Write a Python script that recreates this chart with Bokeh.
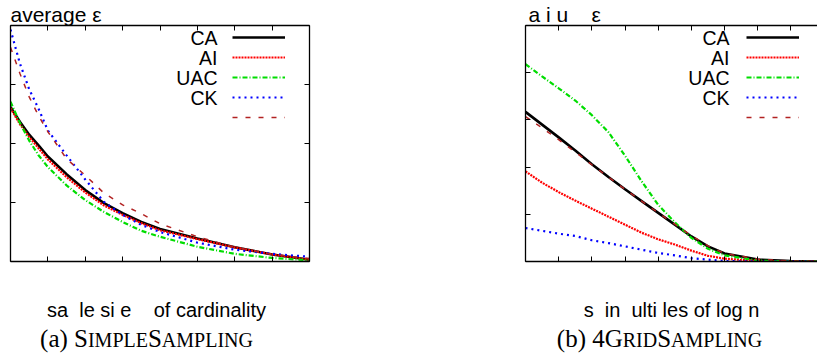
from bokeh.plotting import figure
from bokeh.models import (Range1d, LinearAxis, FixedTicker, CustomJSTickFormatter,
                          Label, Legend, LegendItem)
from bokeh.layouts import row, column
from bokeh.embed import file_html
from bokeh.resources import INLINE

# ---------------- data: (a) SimpleSampling ----------------
xa = [0, 0.25, 0.5, 0.75, 1, 1.5, 2, 2.5, 3, 3.5, 4, 5, 6, 7, 8]
a_ca = [2.62, 2.37, 2.15, 1.97, 1.78, 1.48, 1.21, 0.99, 0.82, 0.67, 0.55, 0.39, 0.24, 0.12, 0.03]
a_ai = [2.60, 2.33, 2.11, 1.92, 1.73, 1.43, 1.17, 0.95, 0.79, 0.65, 0.53, 0.38, 0.24, 0.12, 0.03]
a_uac = [2.71, 2.35, 2.05, 1.80, 1.60, 1.29, 1.04, 0.84, 0.67, 0.52, 0.42, 0.25, 0.13, 0.06, 0.02]
a_ck = [3.93, 3.36, 2.92, 2.59, 2.22, 1.80, 1.39, 1.01, 0.79, 0.62, 0.50, 0.32, 0.20, 0.13, 0.08]
a_x5 = [3.63, 3.19, 2.79, 2.47, 2.20, 1.74, 1.46, 1.16, 0.96, 0.81, 0.64, 0.42, 0.24, 0.12, 0.05]

# ---------------- data: (b) 4GridSampling ----------------
xb = [0, 0.5, 1, 1.5, 2, 2.5, 3, 3.5, 4, 4.5, 5, 5.5, 6, 7, 8, 8.8]
b_ca = [3.17, 2.90, 2.63, 2.35, 2.06, 1.79, 1.53, 1.28, 1.03, 0.78, 0.53, 0.32, 0.17, 0.04, 0.01, 0.0]
b_ai = [1.91, 1.67, 1.47, 1.29, 1.12, 0.95, 0.78, 0.61, 0.47, 0.36, 0.23, 0.12, 0.06, 0.01, 0.0, 0.0]
b_uac = [4.18, 3.92, 3.67, 3.41, 3.10, 2.74, 2.24, 1.70, 1.20, 0.83, 0.50, 0.27, 0.13, 0.02, 0.0, 0.0]
b_ck = [0.71, 0.65, 0.59, 0.54, 0.45, 0.39, 0.32, 0.25, 0.18, 0.13, 0.07, 0.04, 0.01, 0.0, 0.0, 0.0]
b_x5 = [3.07, 2.83, 2.58, 2.32, 2.05, 1.79, 1.53, 1.28, 1.03, 0.79, 0.55, 0.33, 0.17, 0.05, 0.01, 0.0]

series_names = ["CA", "AI", "UAC", "CK", ""]
xticks_a = [0, 1, 2, 3, 4, 5, 6, 7, 8]
yticks_a = [0, 1, 2, 3, 4]
xticks_b = [0, 1, 2, 3, 4, 5, 6, 7, 8]
yticks_b = [0, 1, 2, 3, 4, 5]

title_a = "average ε"
title_b = "a i u\u00a0\u00a0\u00a0 ε"
xlabel_a = "sa\u00a0 le si e \u00a0\u00a0 of cardinality"
xlabel_b = "s\u00a0 in\u00a0 ulti les of log n"
caption_a = [("(a) S", "big"), ("IMPLE", "small"), ("S", "big"), ("AMPLING", "small")]
caption_b = [("(b) 4G", "big"), ("RID", "small"), ("S", "big"), ("AMPLING", "small")]

STYLES = [
    dict(line_color="black", line_width=2.6, line_dash="solid"),
    dict(line_color="#ff0000", line_width=2.2, line_dash="2 1"),
    dict(line_color="#00dd00", line_width=2.2, line_dash="5 2 1 2"),
    dict(line_color="#0000ff", line_width=2.2, line_dash="2 4"),
    dict(line_color="#b22222", line_width=1.5, line_dash="5 8"),
]

SANS = "Liberation Sans"
SERIF = "Liberation Serif"
TIMES_W = {"(": 333, "a": 444, ")": 333, " ": 250, "b": 500, "4": 500, "S": 556, "I": 333,
           "M": 889, "P": 556, "L": 611, "E": 611, "A": 722, "N": 722, "G": 722, "R": 667,
           "D": 722}
BASE_SHIFT = 0.32   # compensation (in em) for where the baseline lands


def style_axis(ax, ticks):
    ax.ticker = FixedTicker(ticks=ticks)
    ax.formatter = CustomJSTickFormatter(code="return ''")
    ax.axis_line_color = "black"
    ax.axis_line_width = 1.3
    ax.major_tick_in = 5
    ax.major_tick_out = 0
    ax.major_tick_line_color = "black"
    ax.major_tick_line_width = 1
    ax.minor_tick_line_color = None
    ax.major_label_text_font_size = "0px"
    ax.major_label_standoff = 0


def add_text(p, text, sx, sy, size, align="left", font=SANS):
    p.add_layout(Label(x=sx, y=sy + BASE_SHIFT * size, x_units="screen", y_units="screen",
                       text=text, text_font=font, text_font_size=f"{size}px",
                       text_align=align, text_baseline="alphabetic", text_color="black"))


def add_smallcaps(p, parts, cx, sy, big, small):
    widths = []
    for t, kind in parts:
        s = big if kind == "big" else small
        widths.append(sum(TIMES_W.get(c, 500) for c in t) / 1000 * s)
    x = cx - sum(widths) / 2
    for (t, kind), w in zip(parts, widths):
        s = big if kind == "big" else small
        add_text(p, t, x, sy, s, "left", SERIF)
        x += w


def make_panel(xs, ys_list, xr, yr, xticks, yticks, width, border_l, border_r,
               right_axis, title, names_x, legend_x):
    p = figure(width=width, height=267, output_backend="svg", toolbar_location=None,
               x_range=Range1d(*xr), y_range=Range1d(*yr),
               min_border_left=border_l, min_border_right=border_r,
               min_border_top=23, min_border_bottom=6,
               background_fill_color="white", border_fill_color="white")
    p.title.text = title[0]
    p.title.align = "left"
    p.title.offset = title[1]
    p.title.standoff = 0
    p.title.text_font = SANS
    p.title.text_font_size = "21px"
    p.title.text_font_style = "normal"
    p.title.text_line_height = 0.8
    p.title.text_color = "black"
    p.outline_line_color = None
    p.xgrid.visible = False
    p.ygrid.visible = False
    style_axis(p.xaxis[0], xticks)
    style_axis(p.yaxis[0], yticks)
    top = LinearAxis()
    style_axis(top, xticks)
    p.add_layout(top, "above")
    if right_axis:
        rax = LinearAxis()
        style_axis(rax, yticks)
        p.add_layout(rax, "right")

    renderers = []
    for ys, st in zip(ys_list, STYLES):
        renderers.append(p.line(xs, ys, **st))

    legend = Legend(items=[LegendItem(label=" ", renderers=[r]) for r in renderers],
                    location=(legend_x, 135), orientation="vertical",
                    glyph_width=53, glyph_height=18, spacing=2, padding=0, margin=0,
                    label_standoff=0, label_width=0, label_height=18,
                    label_text_font_size="8px",
                    background_fill_alpha=0, border_line_color=None)
    p.add_layout(legend)

    for i, name in enumerate(series_names):
        if name:
            add_text(p, name, names_x, 217.5 - 20 * i, 19.5, "right")
    return p


def make_caption(width, xlabel, caption):
    c = figure(width=width, height=93, output_backend="svg", toolbar_location=None,
               x_range=Range1d(0, 1), y_range=Range1d(0, 1),
               min_border_left=0, min_border_right=0, min_border_top=0, min_border_bottom=0,
               background_fill_color="white", border_fill_color="white")
    c.outline_line_color = None
    c.xaxis.visible = False
    c.yaxis.visible = False
    c.xgrid.visible = False
    c.ygrid.visible = False
    add_text(c, xlabel[0], xlabel[1], 44, 20, "center")
    add_smallcaps(c, caption[0], caption[1], 14, 25, 20)
    return c


pa = make_panel(xa, [a_ca, a_ai, a_uac, a_ck, a_x5], (0, 8), (0, 4), xticks_a, yticks_a,
                409, 10, 100, True, (title_a, 0), 207, 222)
pb = make_panel(xb, [b_ca, b_ai, b_uac, b_ck, b_x5], (0, 8.8), (0, 5), xticks_b, yticks_b,
                408, 116, 0, False, (title_b, 3), 204, 221)
ca = make_caption(409, (xlabel_a, 156), (caption_a, 146))
cb = make_caption(408, (xlabel_b, 262), (caption_b, 250))

layout = column(row(pa, pb), row(ca, cb))
open("out.html", "w").write(file_html(layout, INLINE))
